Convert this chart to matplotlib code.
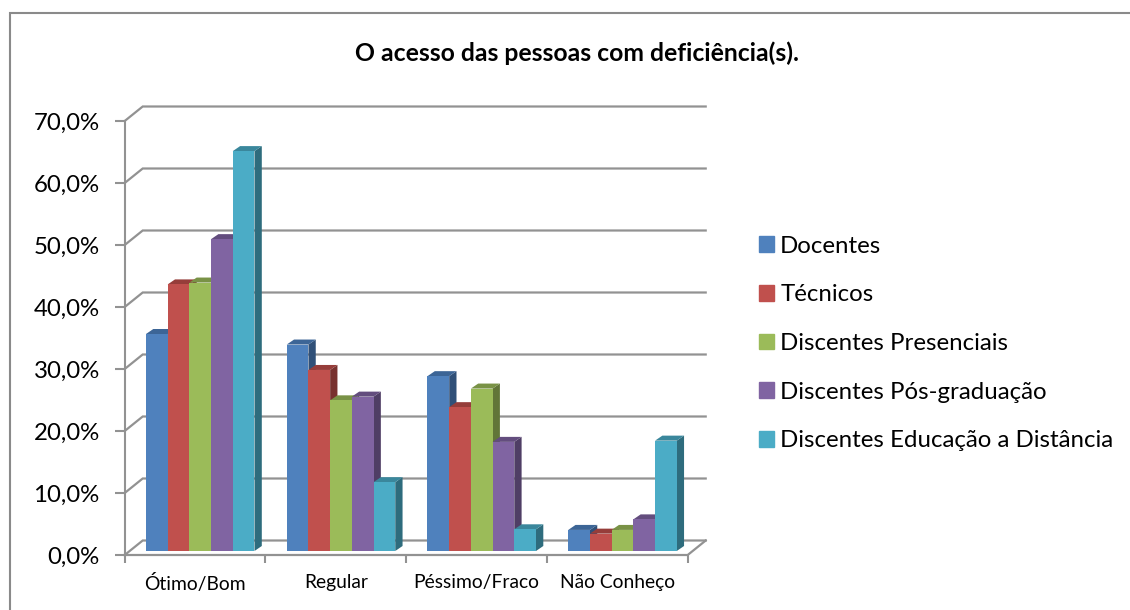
import numpy as np
import matplotlib
matplotlib.use('Agg')
import matplotlib.pyplot as plt
from matplotlib.patches import Patch, Rectangle

plt.rcParams['font.family'] = ['Lato', 'DejaVu Sans']

categories = ['Ótimo/Bom', 'Regular', 'Péssimo/Fraco', 'Não Conheço']
series_names = ['Docentes', 'Técnicos', 'Discentes Presenciais', 'Discentes Pós-graduação',
                'Discentes Educação a Distância']
docentes = [35.0, 33.3, 28.2, 3.4]
tecnicos = [43.0, 29.2, 23.2, 2.8]
presenciais = [43.3, 24.3, 26.2, 3.4]
pos_graduacao = [50.3, 24.9, 17.6, 5.1]
distancia = [64.5, 11.1, 3.5, 17.8]
series = [docentes, tecnicos, presenciais, pos_graduacao, distancia]

front_colors = ['#4F81BD', '#C0504D', '#9BBB59', '#8064A2', '#4BACC6']
top_colors = ['#3C6596', '#963D3A', '#799246', '#634D7E', '#3A879C']
side_colors = ['#305078', '#78312F', '#617538', '#4F3E65', '#2E6C7D']
grid_color = '#929292'

W, H = 1130, 610
fig = plt.figure(figsize=(W / 100, H / 100), dpi=100)
fig.add_artist(Rectangle((10 / W, -0.05), 1.2, 1.05 - 13 / H, transform=fig.transFigure,
                         fill=False, edgecolor='#8a8a8a', linewidth=1.5))

# axes box is the front plane of the fake 3D floor
left, right, y0, y70 = 124.7, 687.7, 555, 121
ax = fig.add_axes([left / W, 1 - y0 / H, (right - left) / W, (y0 - y70) / H])
ax.set_xlim(0, 4)
ax.set_ylim(0, 70)

px = 4 / (right - left)
py = 70 / (y0 - y70)
depth_x, depth_y = 18 * px, 14.5 * py  # wall offset
bar_dx, bar_dy = 7.3 * px, 5 * py      # bar depth
base_x, base_y = 21.3 * px, 4 * py     # gap from axis to first bar
bar_w = 21.7 * px

for spine in ['top', 'right', 'bottom']:
    ax.spines[spine].set_visible(False)
ax.spines['left'].set_color(grid_color)
ax.spines['left'].set_linewidth(1.5)
ax.patch.set_visible(False)

yticks = np.arange(0, 71, 10)
ax.set_yticks(yticks)
ax.set_yticklabels([('%.1f%%' % t).replace('.', ',') for t in yticks], fontsize=17.3, color='black')
ax.set_xticks(range(5))
ax.set_xticklabels([])
ax.tick_params(axis='y', length=7, width=1.5, color=grid_color, pad=11)
ax.tick_params(axis='x', length=6, width=1.5, color=grid_color)
for i, c in enumerate(categories):
    ax.text(i + 0.5, -3.0, c, ha='center', va='top', fontsize=13.9, color='black', clip_on=False)

# walls and floor
for t in yticks:
    ax.plot([0, depth_x, 4 + depth_x], [t, t + depth_y, t + depth_y], color=grid_color, lw=1.6,
            clip_on=False, zorder=1, solid_joinstyle='miter')
ax.plot([0, 4, 4 + depth_x], [0, 0, depth_y], color=grid_color, lw=1.6, clip_on=False, zorder=1)

z = 3
for c in range(len(categories)):
    for s in range(len(series)):
        v = series[s][c]
        x = c + base_x + s * bar_w
        ax.fill([x + bar_w, x + bar_w + bar_dx, x + bar_w + bar_dx, x + bar_w],
                [base_y, base_y + bar_dy, base_y + v + bar_dy, base_y + v],
                color=side_colors[s], lw=0, clip_on=False, zorder=z)
        ax.fill([x, x + bar_dx, x + bar_w + bar_dx, x + bar_w],
                [base_y + v, base_y + v + bar_dy, base_y + v + bar_dy, base_y + v],
                color=top_colors[s], lw=0, clip_on=False, zorder=z)
        ax.bar(x, v, bar_w, bottom=base_y, align='edge', color=front_colors[s], lw=0,
               clip_on=False, zorder=z + 1)
        z += 2

fig.text(577 / W, 1 - 53 / H, 'O acesso das pessoas com deficiência(s).', ha='center', va='center',
         fontsize=17.8, fontweight='bold', color='black')

handles = [Patch(color=col) for col in front_colors]
fig.legend(handles, series_names, loc='center left', bbox_to_anchor=(759 / W, 1 - 343.5 / H), frameon=False,
           fontsize=17.3, handlelength=0.62, handleheight=0.62, handletextpad=0.26, labelspacing=1.15,
           borderpad=0, borderaxespad=0)

fig.savefig('out.png', dpi=100)
